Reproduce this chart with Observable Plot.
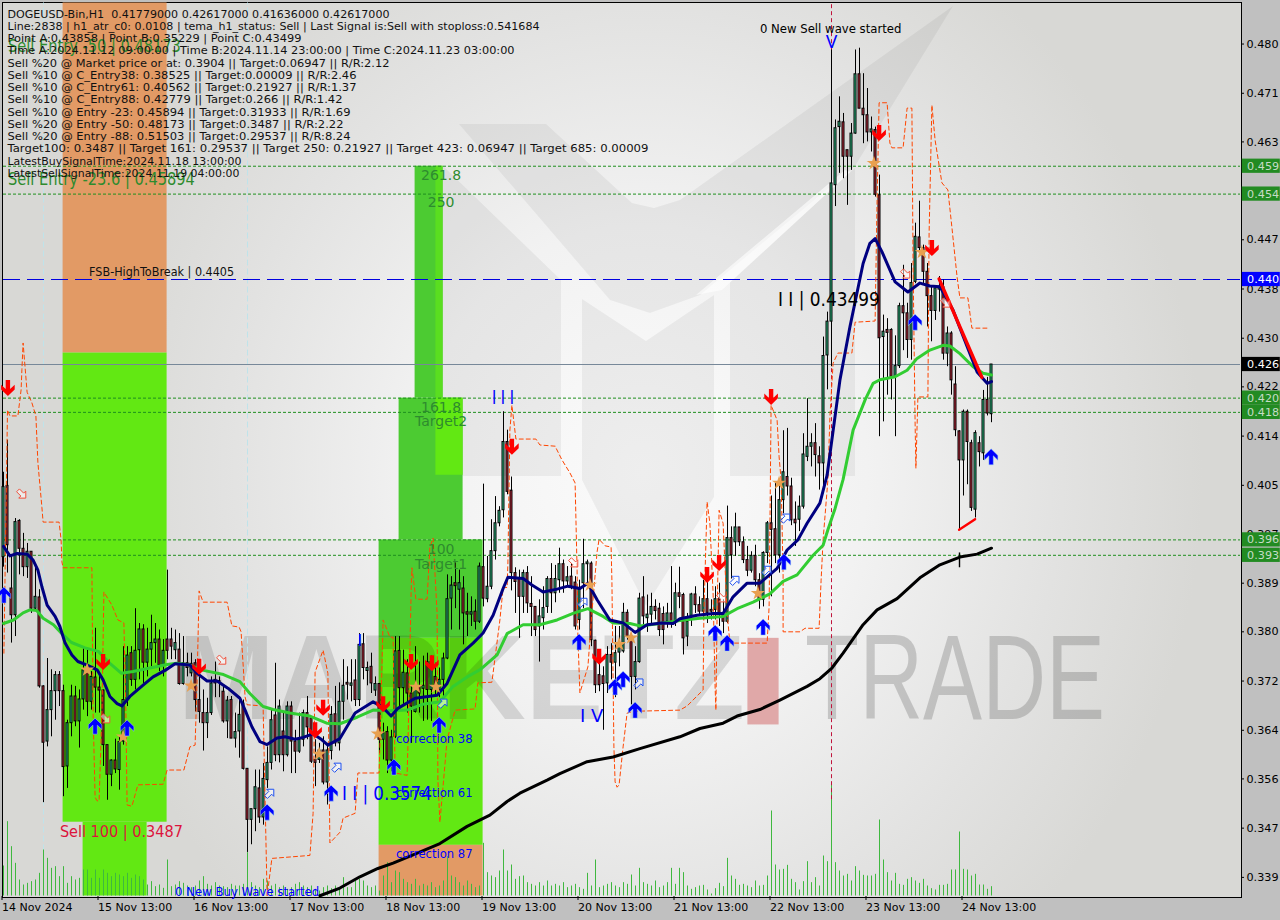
<!DOCTYPE html>
<html><head><meta charset="utf-8">
<script src="https://cdn.jsdelivr.net/npm/d3@7"></script>
<script src="https://cdn.jsdelivr.net/npm/@observablehq/plot@0.6"></script>
<style>
html,body{margin:0;padding:0;background:#c0c0c0;overflow:hidden}
#wrap{position:relative;width:1280px;height:920px;overflow:hidden}
#bg{position:absolute;left:2px;top:2px;width:1238px;height:894px;border-top:1px solid #000;border-left:1px solid #000;border-right:1px solid #000;border-bottom:1px solid #000;box-sizing:content-box;
background-image:url("data:image/svg+xml,%3Csvg xmlns='http://www.w3.org/2000/svg' width='1238' height='894'%3E%3Cg transform='translate(-3 -3)'%3E%3Cg fill='%23000' fill-opacity='.05'%3E%3Cpolygon points='459,124 546,124 632,203 654,208 680,200 953,6 855,166 700,295 650,313 610,300'/%3E%3Cpolygon points='443,166 561,280 561,476 436,476'/%3E%3Cpolygon points='730,282 855,168 855,476 730,476'/%3E%3Cpolygon points='582,299 646,341 714,295 714,497 646,606 582,480'/%3E%3C/g%3E%3Cpolygon fill='%23fff' fill-opacity='.6' points='696,295 722,290 850,172 845,170'/%3E%3C/g%3E%3C/svg%3E"),
radial-gradient(ellipse 560px 620px at 640px 470px,#fbfbfb 0%,#f2f2f2 40%,#e2e2e1 75%,#d8d8d5 100%);}
#plot{position:absolute;left:0;top:0}
svg{display:block}
</style></head>
<body><div id="wrap"><div id="bg"></div><div id="plot"></div></div>
<script>
// All prices below are in thousandths of a US dollar (393.7 = 0.3937).
// Candles, one row per hourly bar: open, close, high, low
const ohlc=[
[393.7,405.5,408,392],[405.7,395.7,413.4,391],[388.4,383.9,393.8,379.2],[383.9,399.6,400.2,380.3],[399.8,395.1,400,390.7],[395.1,392,397.7,390.4],[392,394.6,396,390.1],[394.6,385,394.6,384.2],[385,387,392,384.5],[386.9,371.9,388.2,371.6],
[371.9,362.4,372,352.3],[362.6,367.9,376.6,361.7],[367.9,371.1,374.7,363.4],[371.1,373.8,374.4,366.2],[373.8,371.1,374.4,368.5],[371.1,358.3,372.1,353.3],[358.4,365.7,366.2,354.7],[365.7,370.2,372.1,363.4],[370.2,366,371.9,365.1],[366,369.7,371.3,361.5],
[369.7,374.6,378.3,367.9],[374.6,369.3,378,366.8],[369.3,373.5,374.4,367.9],[373.4,371.7,381.7,367.4],[371.7,371.2,373.8,367.4],[371.2,362,371.3,358.4],[362,357,362,352.7],[357,359.4,359.5,355],[359.4,357.9,363,357.2],[357.8,362.5,363.4,354.4],
[362.6,369.6,378.6,362],[369.6,377.1,378.6,368.5],[377.5,373,378.6,371.9],[373,377.9,385,371.3],[378,381.5,382.5,373],[381.5,375.9,382.3,372.4],[375.9,378.1,381.7,373.5],[378.1,379.2,383.9,375.2],[379.2,379.8,382.5,375.8],[379.8,375.5,381.4,374.4],
[375.5,377.9,379.8,373.5],[379.8,377.9,391.5,376.4],[379.8,378.6,381.7,376.4],[378,379.2,381.4,376.4],[378.1,372.3,380.8,372.1],[372.3,375.8,380.3,372.1],[375.8,375,377.5,373.5],[374.1,375.7,377.5,373.5],[375.8,369.6,376.4,367.6],[369.6,367.6,373.5,365.7],
[367.4,365.7,371.3,361],[365.7,367.4,369.9,363.1],[367.4,372.4,373.5,367],[373,372.4,376,370],[372.8,372.5,373.5,370],[371,366,371.9,365.7],[366,369.5,370.2,363.1],[369.6,363.1,370.2,363.1],[363.1,364.2,367.4,361.5],[364.3,367.1,370.2,359.8],
[369,358,369.6,357.8],[358,349.4,358,343.9],[349.4,351.2,351.2,345.2],[351.2,354.9,357.8,347.4],[354.7,349.8,357.8,348.8],[349.8,356.3,358.9,348.5],[356.1,359,361.7,354.7],[359,366.2,367.9,357.8],[367,360.3,375.8,359.2],[360.3,368.5,369.6,359],
[364.3,360.3,367.4,357.5],[360.3,368.5,369.3,360],[368.5,362.6,369.3,357.2],[362.6,360.9,364.5,357.2],[360.9,362.9,367.4,360.6],[362.9,367.4,367.9,361.7],[367.4,365,370.2,362.9],[366.5,359.2,366.8,358.9],[359.5,359,362.9,355],[359.5,361.1,362.3,358.9],
[361.1,355.7,363.4,355.3],[355.7,361.1,362.3,351.9],[361,367.1,368.5,359.5],[367.2,362.3,371.9,361.7],[362.3,369.3,372.5,361],[369.3,372,376.4,366.2],[372.5,372.2,375.2,369.6],[372,372.4,376.4,369.3],[372.9,369.6,376.4,368.5],[369.6,378.9,380.8,368.5],
[379,375,380.8,373],[374.5,375,376,372],[375.2,372.4,377.5,370.7],[371.2,372.3,373.5,370.2],[372.3,362.9,372.4,360.6],[362.9,364,365.7,359.5],[364.2,359.4,365.1,357.2],[359.4,363.3,364.5,357.5],[363.4,377.8,380.3,363.1],[377.9,371.6,380.3,368.5],
[371.6,374.2,378,368.5],[374.1,370.7,376.4,367.4],[370.7,368.5,371.9,362.3],[367.6,371.9,378.6,367.4],[371.9,370.7,376,367.4],[371.5,372,377,366],[376,371.3,377.5,366.2],[371.3,376,377,366],[373.5,371.3,375.8,370.2],[371.3,373,375,370],
[373,376.6,377.5,370.2],[376.6,386.6,390.7,376.4],[386.7,388.9,390.4,381.4],[389.3,388.8,392.7,385],[388.2,389.3,391.5,381.4],[388.4,384.2,390.4,378.9],[384.4,384,387.6,380.3],[384,384.4,387,382],[384.5,382.8,386.5,381.4],[382.8,392.1,392.7,382.5],
[392,386.7,406,385.3],[386.6,388.7,393.8,386],[388.7,394.7,400,388.2],[394.7,399.4,403.9,393.2],[399.4,401.5,402.2,398.8],[401.6,413.1,418.2,400.3],[413.1,404.7,415.1,404.2],[404.9,391,407.2,388],[391,389.5,391.9,384.2],[390.1,387,391.5,380],
[387,391,391.5,384.2],[391,385.9,392.1,384.2],[385.8,385.3,390.4,380.3],[385.3,381.4,385.3,380.3],[382,383.7,386.5,376],[383.4,385.1,388.7,381.4],[385.3,390,390.4,384.2],[390,387.6,392.6,384.2],[387.6,390,392.3,386],[389.8,392.5,395.2,387.6],
[392.5,389.6,393.2,387.6],[389.6,390.3,392.1,388.7],[390.4,388.7,392.6,388.2],[389.4,382,390.4,381.4],[383.1,388.2,389.8,381.4],[389.3,392.5,396.7,385],[392.5,392.8,393.2,389],[392.6,379.7,392.9,378.6],[379.6,372.1,379.7,370.7],[373.8,372.1,377,371],
[373.6,372.3,375.2,364.5],[372.4,377.2,378.6,370.7],[377.2,375.9,379.1,373],[375.9,377.5,382,370],[377.6,379.2,382,375.2],[377.8,384.3,385.9,377.5],[384.3,380.3,384.8,379.7],[380.3,373.5,380.8,368.8],[373.5,376,378.6,371.3],[376,386.7,387.6,375.8],
[386.9,383.7,390.4,382],[383.4,384,387.3,381],[384,385.3,387.6,382],[385.3,384.6,386.5,383.1],[385,381.4,385.9,380.3],[384.1,381.4,385.3,378.9],[382.8,384.2,385.9,381.7],[384.2,382.8,392.1,381.7],[382.8,387.6,389.3,382],[387.6,387,392,385],
[387.3,380,387.6,377.2],[380.3,382.8,384.2,378.6],[383.8,387.4,387.6,382],[387.4,385.6,388.7,384.2],[385.6,384.5,387,383.7],[384.5,386.6,389.8,383.1],[386.6,384.3,391,382.5],[384.8,384.5,386.5,383.1],[384.8,386.6,388.7,383.1],[386.6,383.9,389.3,382],
[383.9,382.8,386.5,380.8],[382.8,396.9,402.3,382.5],[396.9,394,398.8,390],[396.2,398.7,401.1,393.8],[398.7,396.2,398.7,395.5],[396.2,393.2,397.1,392.6],[393.2,391.4,395.5,390.4],[391.4,393.9,394.6,391],[393.9,389.8,395.7,388.7],[389.8,386.5,390.9,384.9],
[386.5,394.4,394.6,385.3],[394.4,399.4,399.7,392.6],[399.4,398.3,404,387],[398.4,394,406.1,392.6],[394,403.3,406.7,391],[403.3,408,415,401],[407.2,405.6,415.4,404],[405.6,399.9,407,399],[400,399.4,403,395.5],[400,402.2,404,398],
[402.2,411,414.5,401.8],[410.6,412.3,420.4,409.8],[412.3,412.9,414.5,408.9],[412.9,410.9,416.2,407.2],[410.7,409.5,412.3,405],[409.5,427.6,430.8,405],[427.7,433.4,435,421.9],[433.4,456.7,479.2,425.8],[456.4,466,467.4,452.8],[466.2,467.1,471.3,458.4],
[467,461.2,468.5,457.5],[462.3,461.2,462.3,453],[461.2,465.1,466.8,458.9],[465.1,475.1,479.2,465],[475.1,469.3,479.5,469.3],[469.3,468.2,475.2,463.4],[468.2,465.3,472.7,463.7],[465.3,465.8,467.9,462],[465.7,454.8,466.2,454.4],[454.7,430.6,458.1,414],
[430.8,431.7,434.5,416.5],[432,431.5,433.9,421],[432,424.1,432.2,420.2],[424.1,425.9,431,414],[425.9,436,436.5,425.5],[436,434.8,442.9,428.5],[434.8,430.3,436.5,427.2],[430.3,439.9,443.2,426.9],[440.1,447.7,450,439.8],[447.6,445.8,453.7,444.9],
[445.8,441.8,446.3,439.8],[441.8,437.7,443.2,432.5],[437.7,435.2,439.3,430],[435.2,439,439.3,433.6],[438.8,439.3,441,435],[439.2,428,440.4,426.9],[428,431.4,432.5,425.8],[431.4,423.5,431.7,421],[422.8,415.1,425.8,414],[414.9,410,415,398.3],
[410,418.2,418.5,404],[418.2,413.1,418.5,405.9],[412.9,402,413.4,401.4],[401.7,414.6,415,400.3],[412.9,411.4,414,408.9],[411.2,420.2,421.8,410],[420.2,417.9,424,417.5],[417.79,426.17,426.17,416.36]];
// Tick volume of each bar
const volume=[90,223,148,98,48,33,38,43,48,68,
138,113,83,88,58,88,38,58,48,53,
78,78,53,78,53,78,68,58,68,63,
58,68,53,63,58,48,33,43,28,33,
23,108,28,33,43,38,30,25,30,45,
58,35,30,40,30,28,25,35,30,30,
35,130,40,30,25,50,45,30,35,25,
30,20,25,35,40,30,25,30,20,15,
25,30,22,30,25,55,25,25,45,50,
45,30,25,30,15,60,100,40,75,70,
50,40,35,50,30,35,30,40,25,30,
45,118,60,55,40,30,45,35,25,30,
158,70,60,55,75,138,75,93,50,58,
60,40,35,30,40,30,45,30,35,30,
40,25,30,35,25,20,68,30,108,25,
30,35,40,30,25,40,35,63,30,83,
40,35,30,45,25,30,40,83,35,83,
70,30,20,25,30,32,18,6,22,38,
28,113,60,50,32,35,30,25,45,30,
32,60,255,93,78,80,92,50,40,18,
43,103,40,55,30,120,103,333,100,75,
60,65,45,88,75,62,60,60,65,228,
108,70,45,68,35,32,50,55,45,38,
50,30,22,18,32,32,35,78,78,192,
80,78,60,65,33,33,20,28];
// Moving averages: [bar, price]
const temaLine=[[0,395.5],[1.6,393.9],[3.4,394.3],[5.9,394.2],[7.4,393.2],[8.6,391.5],[9.6,388.7],[10.9,385.6],[12.9,383.7],[14.1,382],[15.4,379.2],[17.1,377.2],[18.6,376.1],[20.9,375.5],[23.4,374.7],[24.9,373],[26.6,370.2],[28.4,369],[29.6,368.6],[31.6,370.2],[34.9,372.1],[37.4,373.5],[40.4,374.6],[42.9,375.7],[46.6,375.5],[48.4,374.1],[50.9,372.8],[53.4,372.8],[56.1,371.6],[59.1,369.9],[60.4,367.9],[62.1,365.1],[64.1,362.6],[65.9,362.1],[68.4,363.2],[70.4,363.4],[72.9,363],[74.9,363.3],[77.4,363.9],[79.6,362.9],[81.1,362],[84.1,363.1],[87.9,367.4],[92.4,369.3],[94.6,368.5],[96.9,366.9],[98.6,368.2],[102.9,369.9],[108.4,370.4],[110.9,372.4],[114.1,377.2],[117.4,379.2],[119.9,380.9],[122.4,383.9],[124.9,388.4],[126.1,390.3],[129.9,390.1],[132.1,389],[134.9,387.8],[138.4,388.3],[141.1,388.8],[144.1,388.4],[146.1,389.3],[148.4,386.5],[151.6,383.1],[154.9,382.6],[157.9,381],[160.9,382.3],[164.6,382.6],[167.4,382.5],[169.1,383.3],[173.4,383.9],[177.4,384.2],[179.9,384.2],[182.4,387],[185.9,389.3],[189.1,389.3],[193.4,391.8],[195.9,394.9],[198.6,396.6],[200.9,399.4],[204.1,402.8],[205.9,407.5],[209.1,423.5],[211.6,432.5],[214.9,443.2],[216.6,446.6],[217.9,447.4],[219.6,445.2],[221.1,442.9],[222.9,440.1],[226.1,438.4],[229.1,439.9],[231.6,439.4],[234.1,439.3],[237.4,435.3],[240.9,429.2],[243.4,424.9],[245.9,423],[247,423.3]];
const maLine=[[0,382.5],[2.5,383.1],[4.9,384.3],[6.6,384.8],[8.3,384.7],[9.9,383.4],[12.5,382.3],[14.6,380.8],[17,379.3],[20.4,378.4],[23.7,377.8],[26.6,375.8],[29.5,374.1],[32.4,374.4],[36.6,375],[40.9,375.6],[43.3,375.8],[46.6,375.5],[50,374.6],[55,373.9],[59.1,372.7],[61.6,370.7],[64.9,368.5],[67.4,368],[71.6,367.4],[76.6,366.9],[80.8,365.7],[84.1,365.6],[88.4,366.7],[92.4,367.9],[96.6,367.8],[100.9,367.9],[104.9,368.9],[109.1,369.3],[112.4,371.9],[115.9,373.5],[119.1,374.7],[123.4,377.2],[125.9,380.8],[129.9,382.3],[134.1,382.3],[138.4,383.1],[142.4,384.2],[146.1,385],[149.9,383.7],[152.4,382.6],[156.6,382.5],[159.1,382.1],[164.1,382.5],[169.1,383],[174.1,383.4],[179.9,383.7],[183.4,385],[187.4,386.1],[191.6,387.5],[194.9,389.6],[198.4,390.7],[202.4,394],[204.9,395.7],[206.1,398.3],[207.9,401.9],[209.9,406.8],[212.4,415.1],[215.4,420.2],[217.4,423],[219.1,423.6],[222.9,424.1],[225.9,425.2],[228.4,427.2],[231.6,428.6],[234.9,429.4],[236.6,429.3],[239.1,428],[242.4,425.8],[244.9,424.7],[247,424.4]];
const slowLine=[[79.1,336.6],[84.1,337.9],[89.1,339.8],[93.6,341.2],[97.4,342.1],[102.4,343.5],[109.1,345.4],[115.9,348.3],[121.6,350.2],[125.9,352.5],[129.1,353.9],[135.9,356.1],[139.1,357.2],[145.9,359.2],[152.4,360],[159.1,361.4],[169.1,363.4],[174.1,364.8],[179.9,365.7],[183.4,366.9],[189.1,368],[194.1,369.6],[200.9,371.9],[204.1,373.2],[207.1,375],[209.9,377.5],[214.9,382.3],[218.4,384.8],[223.4,386.7],[229.1,390.2],[234.1,392.4],[239.1,393.7],[243.4,394.2],[247,395.2]];
// Dashed stop line: [bar, price]
const stopLine=[[.1,377.5],[1,418.5],[1.6,417.5],[3.6,417.5],[4.4,421.9],[4.6,425.3],[4.9,429.8],[5.9,421.5],[7.1,419.7],[8.1,417.5],[8.6,409.6],[9.6,402.1],[9.9,399.6],[13.9,399.6],[14.4,396.6],[14.6,392.9],[14.9,391.9],[22.1,391.9],[22.4,367.4],[22.9,353.2],[23.4,352.6],[23.9,352.6],[24.6,367.4],[25.1,387.8],[27.1,385.6],[28.6,383.1],[30.1,382.6],[30.6,367.4],[30.9,351.9],[32.1,351.7],[33.6,355.3],[39.9,355.4],[40.9,357.8],[45.1,357.8],[46.6,361.7],[47.9,362],[48.4,373],[48.9,388],[49.9,386.1],[55.9,386.1],[57.1,382.1],[58.9,381.9],[59.4,381.1],[60.4,370.1],[60.9,368.8],[64.9,368.6],[65.9,336.6],[67.1,342.9],[76.6,343.4],[77.4,350.5],[77.9,374.3],[79.9,378],[81.1,374.1],[81.6,345.5],[84.1,347.3],[84.9,349.7],[87.9,350.5],[88.6,357.3],[93.9,357.3],[94.1,361.7],[94.9,383.1],[96.6,380.2],[97.4,380.2],[97.9,357.3],[100.9,356.9],[101.1,361.7],[101.9,387.6],[102.1,391.9],[103.1,386.6],[105.9,386.6],[106.6,395.4],[107.4,396.9],[108.4,384.3],[108.6,356.1],[109.1,349],[110.9,362.9],[112.9,367.9],[117.9,368.1],[118.6,372.5],[122.1,372.6],[124.1,383.1],[124.9,388.5],[125.9,388.6],[126.1,392.7],[126.6,415.1],[127.1,419.3],[128.1,413.6],[133.1,413.6],[134.1,412.6],[137.9,412.4],[139.6,410.1],[141.6,407.9],[142.9,406.2],[143.4,391.5],[143.6,380.2],[144.1,370.8],[146.1,375.2],[147.1,384.3],[148.4,394.6],[148.9,396.7],[150.4,395.6],[151.9,395.4],[152.1,389.8],[152.6,361.7],[152.9,355.8],[153.4,354.9],[153.9,355.3],[154.9,361.7],[155.9,367.4],[157.4,367.7],[169.1,367.9],[170.9,368.6],[174.9,371.3],[175.1,384.3],[175.9,403],[176.6,399.4],[177.4,387.6],[177.9,371.8],[178.1,367.9],[178.4,384.3],[178.9,401.6],[179.9,399.4],[180.9,384.3],[181.6,379.2],[190.9,379.2],[191.4,385.3],[191.6,398.3],[191.9,419.3],[193.4,416.8],[193.9,410.6],[194.4,406.7],[194.9,390.7],[194.9,381.1],[199.1,381.1],[200.4,381.7],[203.9,381.7],[204.4,389.8],[204.9,396.6],[206.1,406.7],[206.6,417.3],[207.4,426.4],[208.6,428.1],[212.1,428.1],[212.9,433.3],[217.9,433.5],[218.4,453.9],[218.9,470.3],[220.9,470.3],[221.6,463.5],[222.1,462.7],[224.9,462.7],[225.9,469.4],[227.1,469.4],[227.4,442.6],[227.9,416.3],[228.1,408.7],[228.6,420.7],[231.1,420.7],[231.4,448.3],[232.1,469.9],[232.9,464],[234.6,456.8],[236.1,455.6],[237.1,449.3],[238.4,440.9],[239.1,437.4],[241.1,437.4],[242.1,432.3],[246.6,432.3]];
// Signals: [bar, price]
const sellArrows=[[1.1,422.2],[24.9,376],[48.9,375.2],[79.9,368.3],[77.9,364.5],[94.9,368.9],[101.9,376],[107.1,375.8],[148.9,376.9],[127.1,412.3],[175.9,390.7],[178.9,392.7],[191.9,420.7],[218.9,465.2],[232.1,445.8]];
const buyArrows=[[.1,387.3],[22.9,365.2],[30.9,364.9],[65.9,350.7],[81.9,353.9],[97.6,358.3],[108.9,365.4],[143.9,379.4],[152.9,371.8],[154.9,373.1],[157.9,367.9],[177.9,380.9],[180.9,379.2],[189.9,381.9],[195.1,392.9],[227.9,433.3],[246.9,410.6]];
const sellHints=[[4.6,404.3],[25.6,366.4],[54.6,376.3],[142.6,392.7],[179.6,386.8],[225.6,441.4],[235.6,436.5]];
const buyHints=[[66.6,353.9],[83.4,358.3],[109.9,369.1],[144.9,386.1],[158.9,372.5],[182.9,389.8],[195.6,400.3],[190.9,391.5]];
const stars=[[20.9,374.7],[29.9,363.4],[46.9,372],[78.9,360.5],[93.6,363.9],[103.1,371.8],[108.1,371.8],[146.6,389],[153.9,379],[156.9,380.1],[188.6,387.6],[193.9,406.2],[217.6,460.1],[229.6,445.1]];
// Levels
const greenLevels=[459.6,454.9,420.5,418.1,396.6,394];
const breakLevel=440.5, lastPrice=426.17;
const priceTicks=[480.2,471.9,463.7,455.4,447.2,438.9,430.6,422.4,414.1,405.8,397.6,389.3,381.1,372.8,364.5,356.3,348,339.7];
const priceTickLabels=["0.480","0.471","0.463","0.455","0.447","0.438","0.430","0.422","0.414","0.405","0.397","0.389","0.380","0.372","0.364","0.356","0.347","0.339"];
const tagPrices=[459.6,454.9,440.5,426.17,420.5,418.1,396.6,394];
const tagLabels=["0.459","0.454","0.440","0.426","0.420","0.418","0.396","0.393"];
const tagKinds=["g","g","b","k","g","g","g","g"];
const timeBars=[0,24,48,72,96,120,144,168,192,216,240];
const timeLabels=["14 Nov 2024","15 Nov 13:00","16 Nov 13:00","17 Nov 13:00","18 Nov 13:00","19 Nov 13:00","20 Nov 13:00","21 Nov 13:00","22 Nov 13:00","23 Nov 13:00","24 Nov 13:00"];
const infoLines=[
"DOGEUSD-Bin,H1  0.41779000 0.42617000 0.41636000 0.42617000",
"Line:2838 | h1_atr_c0: 0.0108 | tema_h1_status: Sell | Last Signal is:Sell with stoploss:0.541684",
"Point A:0.43858 | Point B:0.35229 | Point C:0.43499",
"Time A:2024.11.12 09:00:00 | Time B:2024.11.14 23:00:00 | Time C:2024.11.23 03:00:00",
"Sell %20 @ Market price or at: 0.3904 || Target:0.06947 || R/R:2.12",
"Sell %10 @ C_Entry38: 0.38525 || Target:0.00009 || R/R:2.46",
"Sell %10 @ C_Entry61: 0.40562 || Target:0.21927 || R/R:1.37",
"Sell %10 @ C_Entry88: 0.42779 || Target:0.266 || R/R:1.42",
"Sell %10 @ Entry -23: 0.45894 || Target:0.31933 || R/R:1.69",
"Sell %20 @ Entry -50: 0.48173 || Target:0.3487 || R/R:2.22",
"Sell %20 @ Entry -88: 0.51503 || Target:0.29537 || R/R:8.24",
"Target100: 0.3487 || Target 161: 0.29537 || Target 250: 0.21927 || Target 423: 0.06947 || Target 685: 0.00009",
"LatestBuySignalTime:2024.11.18 13:00:00",
"LatestSellSignalTime:2024.11.19 04:00:00"];
const infoWidths=[382,532,294,507,382,349,349,335,343,336,343,641,234,232];

// Tables
const P=v=>v/1000;
const candles=ohlc.map(([o,c,h,l],i)=>({i,o:P(o),c:P(c),h:P(h),l:P(l),up:c>=o}));
const yMin=.33656,yMax=.48712;
const volPricePerUnit=.0000562;
const bars=volume.map((v,i)=>({i,top:yMin+v*volPricePerUnit}));
const pts=a=>a.map(([x,y])=>({x,y:P(y)}));
const tags=tagPrices.map((p,i)=>({y:P(p),t:tagLabels[i],k:tagKinds[i]}));

// Glyphs
const poly=(pp,k=1)=>({draw(c){pp.forEach(([x,y],i)=>i?c.lineTo(x*k,y*k):c.moveTo(x*k,y*k));c.closePath();}});
const downShape=[[-2.2,-8],[2.2,-8],[2.2,1],[6.8,-3.4],[6.8,1.4],[0,8],[-6.8,1.4],[-6.8,-3.4],[-2.2,1]];
const upShape=downShape.map(([x,y])=>[x,-y]);
const base=[[-5.5,-2],[.5,-2],[.5,-5],[5.5,0],[.5,5],[.5,2],[-5.5,2]];
const rot=(a)=>base.map(([x,y])=>[x*Math.cos(a)-y*Math.sin(a),x*Math.sin(a)+y*Math.cos(a)]);

const font="'DejaVu Sans'";
const dark="#4ccb32",lime="#62e813",peach="#e29a65";
const block=(x1,x2,y1,y2,fill)=>Plot.rect([{x1,x2,y1,y2}],{x1:"x1",x2:"x2",y1:"y1",y2:"y2",fill});

const chart=Plot.plot({
  width:1280,height:920,marginLeft:3,marginRight:40,marginTop:3,marginBottom:24,
  style:{background:"transparent",fontFamily:font,overflow:"visible",maxWidth:"none"},
  x:{type:"linear",domain:[0,309.25],label:null},
  y:{domain:[yMin,yMax],range:[895.5,2.5],label:null},
  marks:[
    block(14.9,40.9,.4281,yMax,peach),
    block(14.9,40.9,.349,.4281,lime),
    block(19.9,35.9,yMin,.349,lime),
    block(102.9,109.9,.4205,.4596,dark),
    block(108.1,109.9,.4205,.4596,"#5ade20"),
    block(98.9,114.9,.3966,.4205,dark),
    block(108.1,114.9,.4075,.4205,lime),
    block(93.9,119.9,.38,.3966,dark),
    block(93.9,119.9,.3451,.38,lime),
    block(93.9,119.9,yMin,.3451,peach),
    block(186.1,193.9,.3654,.38,"#e0a8a8"),
    Plot.text(["MARKETZ"],{x:43.6,y:.3728,textAnchor:"start",fontSize:120,fontWeight:700,fontFamily:"'Liberation Sans'",fill:"#000",fillOpacity:.12,className:"wm-a"}),
    Plot.text(["TRADE"],{x:200.4,y:.3728,textAnchor:"start",fontSize:120,fontWeight:400,fontFamily:"'Liberation Sans'",fill:"#000",fillOpacity:.17,className:"wm-b"}),
    Plot.ruleX([10,61],{y1:yMin,y2:yMax,stroke:"#bfe3ea",strokeDasharray:"6,3",strokeWidth:1}),
    Plot.ruleX(bars,{x:"i",y1:yMin,y2:"top",stroke:"#3fb83f",strokeWidth:1}),
    Plot.ruleY(greenLevels.map(P),{stroke:"#1f8f1f",strokeDasharray:"3,2",strokeWidth:1}),
    Plot.ruleY([P(breakLevel)],{stroke:"#0000e0",strokeDasharray:"17,7",strokeWidth:1}),
    Plot.ruleY([P(lastPrice)],{stroke:"#778899",strokeWidth:1}),
    Plot.ruleX([207],{y1:.3528,y2:yMax,stroke:"#c0143c",strokeDasharray:"4,3",strokeWidth:1}),
    Plot.ruleX(candles,{x:"i",y1:"l",y2:"h",stroke:"#000",strokeWidth:1}),
    Plot.rect(candles,{x1:d=>d.i-.25,x2:d=>d.i+.25,y1:"o",y2:"c",fill:d=>d.up?"#2fc085":"#c02a3c",stroke:"#000",strokeWidth:1}),
    Plot.ruleX([239],{y1:.3919,y2:.3944,stroke:"#000",strokeWidth:1.4}),
    Plot.line(pts(stopLine),{x:"x",y:"y",stroke:"#ff4500",strokeWidth:1,strokeDasharray:"4,3"}),
    Plot.line(pts(slowLine),{x:"x",y:"y",stroke:"#000",strokeWidth:3}),
    Plot.line(pts(maLine),{x:"x",y:"y",stroke:"#32cd32",strokeWidth:3}),
    Plot.line(pts(temaLine),{x:"x",y:"y",stroke:"#000080",strokeWidth:3}),
    Plot.line(pts([[233.9,440.6],[244.6,424]]),{x:"x",y:"y",stroke:"#ff0000",strokeWidth:3.4}),
    Plot.line(pts([[238.9,398.3],[242.9,400.1]]),{x:"x",y:"y",stroke:"#ff0000",strokeWidth:2.4}),
    Plot.dot(pts(stars),{x:"x",y:"y",symbol:"star",r:4.5,fill:"#e8a050",stroke:"none"}),
    Plot.dot(pts(sellHints),{x:"x",y:"y",symbol:poly(rot(Math.PI/4)),r:5,fill:"#ffffff",fillOpacity:.55,stroke:"#f0503c",strokeWidth:1}),
    Plot.dot(pts(buyHints),{x:"x",y:"y",symbol:poly(rot(-Math.PI/4)),r:5,fill:"#ffffff",fillOpacity:.55,stroke:"#1e50f0",strokeWidth:1}),
    Plot.dot(pts(sellArrows),{x:"x",y:"y",symbol:poly(downShape),r:5,fill:"#ff0000",stroke:"none"}),
    Plot.dot(pts(buyArrows),{x:"x",y:"y",symbol:poly(upShape),r:5,fill:"#0000ff",stroke:"#9fd8f0",strokeWidth:.5}),
    // chart annotations
    Plot.text(["Sell Entry -50 | 0.48173"],{x:1.1,y:.4797,textAnchor:"start",fontSize:17,fill:"#2e8b2e",className:"sz-a"}),
    Plot.text(["Sell Entry -23.6 | 0.45894"],{x:1.1,y:.4573,textAnchor:"start",fontSize:17,fill:"#2e8b2e",className:"sz-b"}),
    Plot.text(["FSB-HighToBreak | 0.4405"],{x:21.4,y:.4418,textAnchor:"start",fontSize:12.5,fill:"#111",className:"sz-c"}),
    Plot.text(["261.8"],{x:109.4,y:.4581,fontSize:14,fill:"#2e8b2e"}),
    Plot.text(["250"],{x:109.4,y:.4534,fontSize:14,fill:"#2e8b2e"}),
    Plot.text(["161.8"],{x:109.4,y:.419,fontSize:14,fill:"#2e8b2e"}),
    Plot.text(["Target2"],{x:109.4,y:.4166,fontSize:14,fill:"#2e8b2e"}),
    Plot.text(["100"],{x:109.4,y:.395,fontSize:14,fill:"#2e8b2e"}),
    Plot.text(["Target1"],{x:109.4,y:.3925,fontSize:14,fill:"#2e8b2e"}),
    Plot.text(["Sell 100 | 0.3487"],{x:14.1,y:.3473,textAnchor:"start",fontSize:15,fill:"#dc143c",className:"sz-d"}),
    Plot.text(["correction 38"],{x:98.1,y:.3629,textAnchor:"start",fontSize:11.6,fill:"#0000ff"}),
    Plot.text(["correction 61"],{x:98.1,y:.3538,textAnchor:"start",fontSize:11.6,fill:"#0000ff"}),
    Plot.text(["correction 87"],{x:98.1,y:.3436,textAnchor:"start",fontSize:11.6,fill:"#0000ff"}),
    Plot.text(["I I | 0.3574"],{x:84.6,y:.3539,textAnchor:"start",fontSize:20,fill:"#0000ff",className:"sz-e"}),
    Plot.text(["I I | 0.43499"],{x:193.6,y:.437,textAnchor:"start",fontSize:19,fill:"#000",className:"sz-f"}),
    Plot.text(["0 New Sell wave started"],{x:189.1,y:.4827,textAnchor:"start",fontSize:11.7,fill:"#000"}),
    Plot.text(["0 New Buy Wave started"],{x:42.9,y:.3372,textAnchor:"start",fontSize:11.7,fill:"#0000ff"}),
    Plot.text(["I I I"],{x:122.1,y:.4205,textAnchor:"start",fontSize:19,fill:"#0000ff",className:"sz-g"}),
    Plot.text(["I V"],{x:144.1,y:.3669,textAnchor:"start",fontSize:18,fill:"#0000ff"}),
    Plot.text(["V"],{x:207,y:.4804,fontSize:17,fill:"#0000ff"}),
    Plot.text(["I"],{x:89.1,y:.3795,fontSize:15,fill:"#0000ff"}),
    // info block
    ...infoLines.map((t,n)=>Plot.text([t],{frameAnchor:"top-left",dx:4,dy:10.5+12.25*n,lineAnchor:"middle",textAnchor:"start",fontSize:11.2,fill:"#111",className:"info"+n})),
    // axes
    Plot.axisY({anchor:"right",ticks:priceTicks.map(P),tickFormat:d=>priceTickLabels[priceTicks.findIndex(v=>Math.abs(P(v)-d)<1e-9)],tickSize:3,tickPadding:3,fontSize:11.2,label:null}),
    Plot.axisX({anchor:"bottom",ticks:timeBars,tickFormat:d=>timeLabels[timeBars.indexOf(d)],tickSize:4,tickPadding:3,textAnchor:"start",dx:-1.5,fontSize:11,label:null}),
    // price tags on the axis
    Plot.rect(tags,{x1:309.7,x2:319.2,y1:d=>d.y-.0012,y2:d=>d.y+.0012,fill:d=>({g:"#228b22",b:"#0000ff",k:"#000"})[d.k]}),
    Plot.text(tags,{x:310.9,y:"y",text:"t",textAnchor:"start",fontSize:11.2,fill:d=>d.k==="g"?"#c6dcc6":"#fff"})
  ]
});
document.getElementById("plot").append(chart);
const sel=d3.select(chart);
const fit=(cls,w)=>sel.select("."+cls+" text").attr("textLength",w).attr("lengthAdjust","spacingAndGlyphs");
fit("wm-a",567);fit("wm-b",300);
fit("sz-a",173);fit("sz-b",187);fit("sz-c",145);fit("sz-d",123);fit("sz-e",90);fit("sz-f",102);fit("sz-g",22);
infoWidths.forEach((w,n)=>fit("info"+n,w));
</script>
</body></html>
